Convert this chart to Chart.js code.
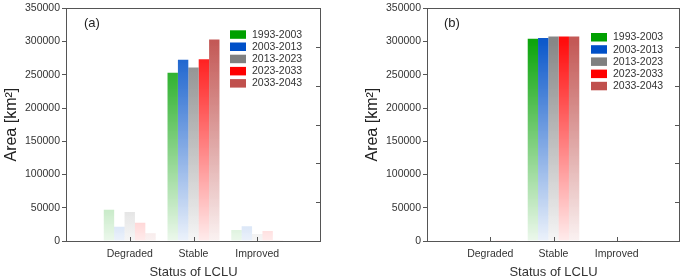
<!DOCTYPE html>
<html>
<head>
<meta charset="utf-8">
<script src="https://cdn.jsdelivr.net/npm/chart.js@4.4.1/dist/chart.umd.min.js"></script>
<style>
  html, body { margin: 0; padding: 0; background: #fff; }
  #wrap { position: relative; width: 685px; height: 279px; overflow: hidden; }
  canvas { position: absolute; top: 0; }
</style>
</head>
<body>
<div id="wrap">
  <canvas id="ca" width="345" height="279" style="left:0px"></canvas>
  <canvas id="cb" width="340" height="279" style="left:345px"></canvas>
</div>
<script>
// ---- Data ----
const categories = ['Degraded', 'Stable', 'Improved'];
const periods = ['1993-2003', '2003-2013', '2013-2023', '2023-2033', '2033-2043'];
const colors = [[0,160,0], [0,80,200], [128,128,128], [255,0,0], [192,80,77]];

// Panel (a): values per period, ordered as categories
const a_1993_2003 = [47000, 253000, 16400];
const a_2003_2013 = [21500, 272500, 22000];
const a_2013_2023 = [43500, 261000, 10500];
const a_2023_2033 = [27500, 273500, 15000];
const a_2033_2043 = [11500, 303000, 1500];

// Panel (b)
const b_1993_2003 = [700, 304300, 900];
const b_2003_2013 = [500, 305500, 600];
const b_2013_2023 = [200, 307500, 200];
const b_2023_2033 = [150, 307500, 150];
const b_2033_2043 = [100, 307500, 100];

const yTicksMax = 350000;
const yTickStep = 50000;
const yTitle = 'Area [km²]';
const xTitle = 'Status of LCLU';

const FONT = "'Liberation Sans', Arial, sans-serif";
const AXIS = '#555';
const TEXT = '#333';

function rgba(c, a) { return 'rgba(' + c[0] + ',' + c[1] + ',' + c[2] + ',' + a + ')'; }

function gradFor(c, alphaTop) {
  return function(ctx) {
    const chart = ctx.chart;
    if (!chart.chartArea) return rgba(c, 0.5);
    const y = chart.scales.y;
    const g = chart.ctx.createLinearGradient(0, y.getPixelForValue(0), 0, y.getPixelForValue(300000));
    g.addColorStop(0, rgba(c, 0.08 * alphaTop));
    g.addColorStop(1, rgba(c, alphaTop));
    return g;
  };
}

function buildDatasets(series) {
  return series.map((vals, k) => ({
    label: periods[k],
    data: vals.map((v, i) => ({ x: i + 1, y: v })),
    backgroundColor: gradFor(colors[k], 0.95),
    borderWidth: 0,
    categoryPercentage: 0.815,
    barPercentage: 1.0
  }));
}

function decorPlugin(opts) {
  return {
    id: 'decor',
    afterDraw(chart) {
      const ctx = chart.ctx;
      const ca = chart.chartArea;
      ctx.save();
      // frame
      ctx.strokeStyle = AXIS;
      ctx.lineWidth = 1;
      ctx.strokeRect(Math.round(ca.left) + 0.5, Math.round(ca.top) + 0.5,
                     Math.round(ca.right - ca.left) - 1, Math.round(ca.bottom - ca.top));
      // bottom inward ticks at categories
      const xs = chart.scales.x;
      ctx.beginPath();
      categories.forEach((c, i) => {
        const px = Math.round(xs.getPixelForValue(i + 1)) + 0.5;
        ctx.moveTo(px, ca.bottom);
        ctx.lineTo(px, ca.bottom - 4);
      });
      // right inward ticks from secondary scale
      const y2 = chart.scales.y2;
      for (let v = 1; v <= 5; v++) {
        const py = Math.round(y2.getPixelForValue(v)) + 0.5;
        ctx.moveTo(ca.right - 0.5, py);
        ctx.lineTo(ca.right - 5, py);
      }
      ctx.stroke();
      // panel label
      ctx.fillStyle = '#222';
      ctx.font = '13px ' + FONT;
      ctx.textAlign = 'left';
      ctx.textBaseline = 'middle';
      ctx.fillText(opts.tag, opts.tagX, opts.tagY);
      // legend
      ctx.font = '10.5px ' + FONT;
      chart.data.datasets.forEach((ds, k) => {
        const cy = opts.legY + k * 12.2;
        ctx.fillStyle = rgba(colors[k], 1);
        ctx.fillRect(opts.legX, cy - 4, 16, 8.5);
        ctx.fillStyle = TEXT;
        ctx.fillText(ds.label, opts.legX + 22, cy + 0.5);
      });
      ctx.restore();
    }
  };
}

function makeChart(id, series, yAxisWidth, titlePad, rightPad, opts) {
  return new Chart(document.getElementById(id), {
    type: 'bar',
    data: { datasets: buildDatasets(series) },
    options: {
      responsive: false,
      animation: false,
      layout: { padding: { top: 6, right: rightPad, left: 0, bottom: 0 } },
      plugins: { legend: { display: false }, tooltip: { enabled: false } },
      scales: {
        x: {
          type: 'linear',
          offset: false,
          min: 0, max: 4,
          grid: { display: false, offset: false },
          border: { display: false },
          ticks: {
            stepSize: 1,
            autoSkip: false,
            maxRotation: 0,
            minRotation: 0,
            padding: -1,
            color: TEXT,
            font: { family: FONT, size: 10.5 },
            callback: v => categories[v - 1] || ''
          },
          title: { display: true, text: xTitle, color: TEXT, font: { family: FONT, size: 13 }, padding: { top: 0, bottom: -1 } },
          afterFit: s => { s.height = 38; }
        },
        y: {
          min: 0, max: yTicksMax,
          grid: { drawOnChartArea: false, tickLength: 4, color: AXIS },
          border: { display: false },
          ticks: { stepSize: yTickStep, padding: 2, color: TEXT, font: { family: FONT, size: 10.5 },
                   callback: v => String(v) },
          title: { display: true, text: yTitle, color: '#222', font: { family: FONT, size: 16 }, padding: { top: titlePad, bottom: 0 } },
          afterFit: s => { s.width = yAxisWidth; }
        },
        y2: {
          display: false,
          position: 'right',
          min: 0, max: 6
        }
      }
    },
    plugins: [decorPlugin(opts)]
  });
}

makeChart('ca', [a_1993_2003, a_2003_2013, a_2013_2023, a_2023_2033, a_2033_2043],
  66, 2, 24, { tag: '(a)', tagX: 84, tagY: 23, legX: 230, legY: 34.3 });
makeChart('cb', [b_1993_2003, b_2003_2013, b_2013_2023, b_2023_2033, b_2033_2043],
  82, 17.5, 5, { tag: '(b)', tagX: 99, tagY: 23, legX: 246, legY: 37 });
</script>
</body>
</html>
